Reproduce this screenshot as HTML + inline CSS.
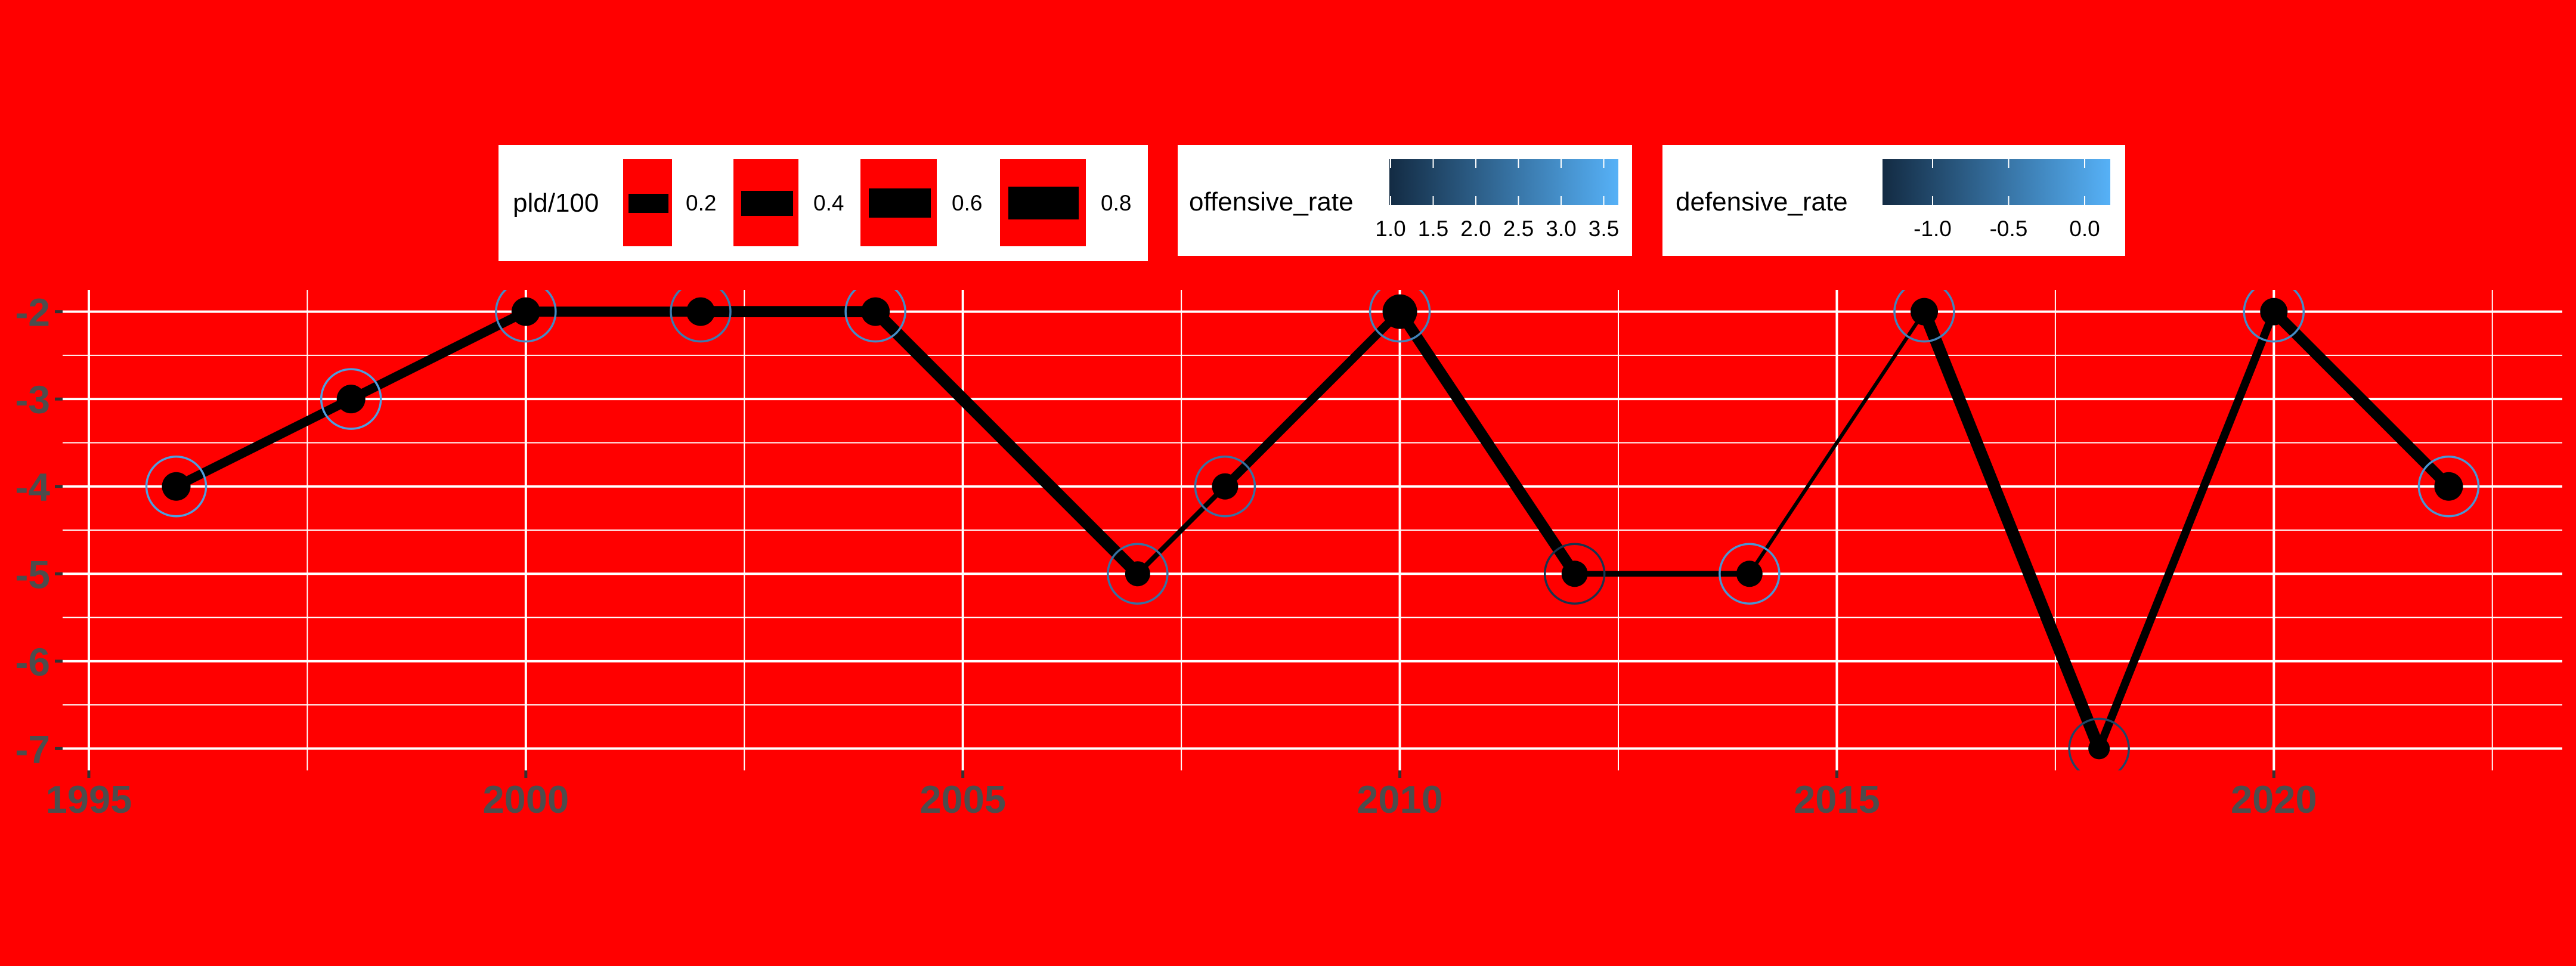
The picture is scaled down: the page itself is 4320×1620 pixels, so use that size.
<!DOCTYPE html>
<html><head><meta charset="utf-8"><style>
html,body{margin:0;padding:0;background:#ff0000;}
svg{display:block;}
text{font-family:"Liberation Sans",sans-serif;}
</style></head><body>
<svg id="chart" width="4320" height="1620" xmlns="http://www.w3.org/2000/svg">
<defs>
<linearGradient id="gradOff" x1="0" x2="1" y1="0" y2="0"><stop offset="0" stop-color="#132B43"/><stop offset="1" stop-color="#56B1F7"/></linearGradient>
<linearGradient id="gradDef" x1="0" x2="1" y1="0" y2="0"><stop offset="0" stop-color="#132B43"/><stop offset="1" stop-color="#56B1F7"/></linearGradient>
<clipPath id="panelClip"><rect x="105" y="486" width="4192" height="806"/></clipPath>
</defs>
<rect x="0" y="0" width="4320" height="1620" fill="#ff0000"/>
<g id="grid"></g>
<g id="series" clip-path="url(#panelClip)"></g>
<g id="axes"></g>

<g>
<rect x="836" y="243" width="1089" height="195" fill="#fff"/>
<text x="860" y="355" font-size="44" fill="#000">pld/100</text>
<rect x="1045" y="267" width="82" height="146" fill="#ff0000"/>
<rect x="1054" y="325" width="67" height="32" fill="#000"/>
<text x="1150" y="353" font-size="37">0.2</text>
<rect x="1230" y="267" width="109" height="146" fill="#ff0000"/>
<rect x="1243" y="320" width="87" height="42" fill="#000"/>
<text x="1364" y="353" font-size="37">0.4</text>
<rect x="1443" y="267" width="128" height="146" fill="#ff0000"/>
<rect x="1457" y="316" width="104" height="49" fill="#000"/>
<text x="1596" y="353" font-size="37">0.6</text>
<rect x="1677" y="267" width="144" height="146" fill="#ff0000"/>
<rect x="1691" y="313" width="118" height="55" fill="#000"/>
<text x="1846" y="353" font-size="37">0.8</text>
</g>

<g>
<rect x="1975" y="243" width="762" height="186" fill="#fff"/>
<text x="1994" y="353" font-size="44">offensive_rate</text>
<rect x="2330" y="267" width="384" height="77" fill="url(#gradOff)"/>
<g id="offTicks"></g>
</g>

<g>
<rect x="2788" y="243" width="776" height="186" fill="#fff"/>
<text x="2810" y="353" font-size="44">defensive_rate</text>
<rect x="3157" y="267" width="382" height="77" fill="url(#gradDef)"/>
<g id="defTicks"></g>
</g>
</svg>
<script>
const years = [1996,1998,2000,2002,2004,2007,2008,2010,2012,2014,2016,2018,2020,2022];
const values = [-4,-3,-2,-2,-2,-5,-4,-2,-5,-5,-2,-7,-2,-4];
const pld = [0.45,0.45,0.5,0.55,0.6,0.25,0.42,0.55,0.28,0.18,0.6,0.4,0.55];
const dotRadius = [24,24,24,24,24,21,22,29,22,22,23,18,23,24];
const defensive = [0.0,0.0,-0.2,-0.4,-0.2,-0.5,-0.5,-0.3,-1.2,-0.1,-0.3,-1.0,-0.2,-0.1];
const xTicks = [1995,2000,2005,2010,2015,2020];
const xMinor = [1997.5,2002.5,2007.5,2012.5,2017.5,2022.5];
const yTicks = [-2,-3,-4,-5,-6,-7];
const yMinor = [-2.5,-3.5,-4.5,-5.5,-6.5];
const offTicks = [1.0,1.5,2.0,2.5,3.0,3.5];
const defTicks = [-1.0,-0.5,0.0];

const NS = "http://www.w3.org/2000/svg";
const PL=105, PR=4297, PT=486, PB=1292;
const xScale = v => PL + (v-1994.7)/(2023.3-1994.7)*(PR-PL);
const yScale = v => PT + (-1.75 - v)/(5.5)*(PB-PT);
const offScale = v => 2332 + (v-1.0)*143;
const defScale = v => 3241 + (v+1.0)*255;
function mk(tag, attrs, parent){const e=document.createElementNS(NS,tag);for(const k in attrs)e.setAttribute(k,attrs[k]);parent.appendChild(e);return e;}
function lerpColor(t){t=Math.max(0,Math.min(1,t));const a=[0x13,0x2B,0x43],b=[0x56,0xB1,0xF7];return 'rgb('+a.map((c,i)=>Math.round(c+(b[i]-c)*t)).join(',')+')';}

const grid=document.getElementById('grid');
yMinor.forEach(v=>{const l=mk('line',{x1:PL,x2:PR,y1:yScale(v),y2:yScale(v),stroke:'#fff','stroke-width':2},grid);

});
xMinor.forEach(v=>{const l=mk('line',{x1:xScale(v),x2:xScale(v),y1:PT,y2:PB,stroke:'#fff','stroke-width':2},grid);

});
yTicks.forEach(v=>{const l=mk('line',{x1:PL,x2:PR,y1:yScale(v),y2:yScale(v),stroke:'#fff','stroke-width':4},grid);

});
xTicks.forEach(v=>{const l=mk('line',{x1:xScale(v),x2:xScale(v),y1:PT,y2:PB,stroke:'#fff','stroke-width':4},grid);

});

const series=document.getElementById('series');
for(let i=0;i<years.length-1;i++){
  const l=mk('line',{x1:xScale(years[i]),y1:yScale(values[i]),x2:xScale(years[i+1]),y2:yScale(values[i+1]),stroke:'#000','stroke-width':pld[i]*34,'stroke-linecap':'butt'},series);
  
  
}
years.forEach((y,i)=>{
  const c=mk('circle',{cx:xScale(y),cy:yScale(values[i]),r:dotRadius[i],fill:'#000'},series);
  
  
  const o=mk('circle',{cx:xScale(y),cy:yScale(values[i]),r:50,fill:'none',stroke:lerpColor((defensive[i]+1.3)/1.5),'stroke-width':3.5},series);
  
  
});

const axes=document.getElementById('axes');
yTicks.forEach(v=>{
  const t=mk('line',{x1:92,x2:105,y1:yScale(v),y2:yScale(v),stroke:'#333','stroke-width':5},axes);
  
  
  const tx=mk('text',{x:84,y:yScale(v)+24,'font-size':66,'font-weight':'bold',fill:'#4d4d4d','text-anchor':'end'},axes);
  tx.textContent=String(v);
  
  
});
xTicks.forEach(v=>{
  const t=mk('line',{x1:xScale(v),x2:xScale(v),y1:PB,y2:PB+13,stroke:'#333','stroke-width':5},axes);
  
  
  const tx=mk('text',{x:xScale(v),y:1363,'font-size':65,'font-weight':'bold',fill:'#4d4d4d','text-anchor':'middle'},axes);
  tx.textContent=String(v);
  
  
});

const ot=document.getElementById('offTicks');
offTicks.forEach(v=>{
  const x=offScale(v);
  mk('line',{x1:x,x2:x,y1:267,y2:282,stroke:'#fff','stroke-width':2},ot);
  mk('line',{x1:x,x2:x,y1:329,y2:344,stroke:'#fff','stroke-width':2},ot);
  const tx=mk('text',{x:x,y:396,'font-size':37,'text-anchor':'middle'},ot);
  tx.textContent=v.toFixed(1);
  
  
});
const dt=document.getElementById('defTicks');
defTicks.forEach(v=>{
  const x=defScale(v);
  mk('line',{x1:x,x2:x,y1:267,y2:282,stroke:'#fff','stroke-width':2},dt);
  mk('line',{x1:x,x2:x,y1:329,y2:344,stroke:'#fff','stroke-width':2},dt);
  const tx=mk('text',{x:x,y:396,'font-size':37,'text-anchor':'middle'},dt);
  tx.textContent=v.toFixed(1);
  
  
});
</script>
</body></html>
